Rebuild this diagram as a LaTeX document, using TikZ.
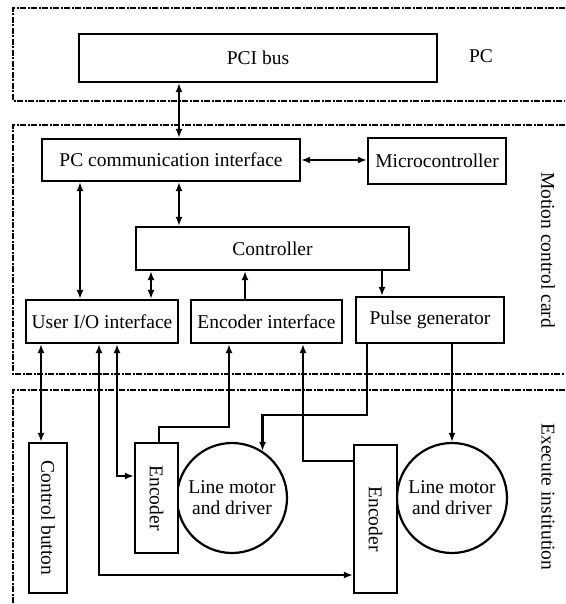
\documentclass[tikz,border=0pt]{standalone}
\usepackage{graphicx}
\usepackage{fontspec}
\setmainfont{Liberation Serif}
\usetikzlibrary{arrows.meta}
\begin{document}
\begin{tikzpicture}[x=1pt,y=-1pt,
  txt/.style={font=\fontsize{19.5}{21}\selectfont},
  box/.style={draw,line width=2.2pt,inner sep=0pt,fill=white,txt},
  motor/.style={draw,circle,line width=2.2pt,inner sep=0pt,minimum size=110pt,align=center,txt},
  region/.style={draw,line width=1.6pt,dash pattern=on 6pt off 1.5pt on 2pt off 1.5pt},
  lbl/.style={txt},
  conn/.style={line width=2.2pt},
  arr/.style={conn,-{Latex[length=9pt,width=7pt]}},
  darr/.style={conn,{Latex[length=9pt,width=7pt]}-{Latex[length=9pt,width=7pt]}}
]
\useasboundingbox (0,0) rectangle (565,604);
% regions
\draw[region] (565,8) -- (13,8) -- (13,101) -- (565,101);
\draw[region] (565,125) -- (13,125) -- (13,374) -- (565,374);
\draw[region] (565,390) -- (13,390) -- (13,604);
\node[lbl] (pclbl) at (481,56) {PC};
\node[lbl,rotate=-90] (cardlbl) at (548,250) {Motion control card};
\node[lbl,rotate=-90] (execlbl) at (548,497) {Execute institution};
% boxes
\node[box,minimum width=358pt,minimum height=48pt] (pci) at (258,58) {PCI bus};
\node[box,minimum width=258pt,minimum height=42pt] (pccom) at (171,160) {PC communication interface};
\node[box,minimum width=138pt,minimum height=46pt] (micro) at (437,161) {Microcontroller};
\node[box,minimum width=273pt,minimum height=43pt] (ctrl) at (272.5,248.5) {Controller};
\node[box,minimum width=152pt,minimum height=43pt] (uio) at (102,321.5) {User I/O interface};
\node[box,minimum width=151pt,minimum height=43pt] (encif) at (266.5,321.5) {Encoder interface};
\node[box,minimum width=148pt,minimum height=46pt] (pulse) at (430,320) {Pulse generator};
\node[box,minimum width=38pt,minimum height=150pt] (cbtn) at (48,518) {\rotatebox{-90}{Control button}};
\node[motor] (mot1) at (232,498) {Line motor\\and driver};
\node[motor] (mot2) at (452,498) {Line motor\\and driver};
\node[box,minimum width=43pt,minimum height=110pt] (enc1) at (156.5,498) {\rotatebox{-90}{Encoder}};
\node[box,minimum width=43pt,minimum height=148pt] (enc2) at (375.5,519) {\rotatebox{-90}{Encoder}};
% connector x positions
\coordinate (xa) at (179,0);
\coordinate (xb) at (80,0);
\coordinate (xc) at (151,0);
\coordinate (xd) at (245,0);
\coordinate (xe) at (382,0);
\coordinate (xf) at (41,0);
\coordinate (xg) at (99,0);
\coordinate (xh) at (117,0);
\coordinate (xi) at (229,0);
\coordinate (xj) at (159,0);
\coordinate (xk) at (303,0);
\coordinate (xl) at (367,0);
\coordinate (ya) at (0,160);
\coordinate (yb) at (0,476);
\coordinate (yc) at (0,575);
\coordinate (yd) at (0,427);
\coordinate (ye) at (0,461);
\coordinate (yf) at (0,415);
% connectors
\draw[darr] (pci.south -| xa) -- (pccom.north -| xa);
\draw[darr] (pccom.east |- ya) -- (micro.west |- ya);
\draw[darr] (pccom.south -| xa) -- (ctrl.north -| xa);
\draw[darr] (pccom.south -| xb) -- (uio.north -| xb);
\draw[darr] (ctrl.south -| xc) -- (uio.north -| xc);
\draw[arr] (encif.north -| xd) -- (ctrl.south -| xd);
\draw[arr] (ctrl.south -| xe) -- (pulse.north -| xe);
\draw[darr] (uio.south -| xf) -- (cbtn.north -| xf);
\draw[darr] (uio.south -| xg) -- (xg |- yc) -- (enc2.west |- yc);
\draw[darr] (uio.south -| xh) -- (xh |- yb) -- (enc1.west |- yb);
\draw[arr] (enc1.north -| xj) -- (xj |- yd) -| (encif.south -| xi);
\draw[arr] (enc2.west |- ye) -| (encif.south -| xk);
\draw[arr] (pulse.south -| xl) -- (xl |- yf) -| (mot1.57);
\draw[arr] (pulse.south -| mot2.north) -- (mot2.north);
\end{tikzpicture}
\end{document}
